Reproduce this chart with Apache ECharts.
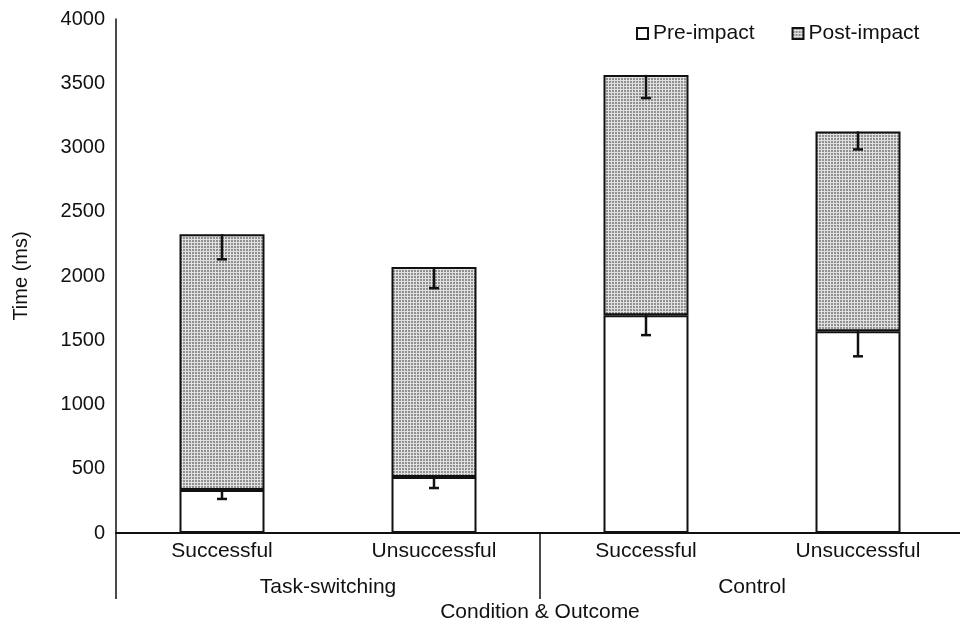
<!DOCTYPE html>
<html>
<head>
<meta charset="utf-8">
<script src="https://cdn.jsdelivr.net/npm/echarts@6/dist/echarts.min.js"></script>
<style>
  html, body { margin: 0; padding: 0; background: #fff; }
  #chart { width: 960px; height: 626px; }
</style>
</head>
<body>
<div id="chart"></div>
<script>
// data
var outcomes = ['Successful', 'Unsuccessful', 'Successful', 'Unsuccessful'];
var conditions = ['Task-switching', 'Control'];
var preImpact = [335, 435, 1695, 1570];
var postImpact = [1990, 1635, 1870, 1555];
var preErr = [70, 85, 155, 195];
var postErr = [195, 165, 180, 140];
var yTicks = [0, 500, 1000, 1500, 2000, 2500, 3000, 3500, 4000];

var font = '"Liberation Sans", Arial, Helvetica, sans-serif';
var ink = '#111';

// dotted fill for the post-impact part
function makeDots() {
    var c = document.createElement('canvas');
    c.width = 3;
    c.height = 3;
    var ctx = c.getContext('2d');
    ctx.fillStyle = '#e0e0e0';
    ctx.fillRect(0, 0, 3, 3);
    ctx.fillStyle = '#909090';
    ctx.fillRect(0, 0, 2, 2);
    return c;
}
var dots = { image: makeDots(), repeat: 'repeat' };

var myCharts = echarts.init(document.getElementById('chart'));

// error bars drawn downward only, with a small cap at the bottom
function errorBars(tops, errs) {
    return tops.map(function (t, i) { return [i, t, t - errs[i]]; });
}
function renderErr(params, api) {
    var hi = api.coord([api.value(0), api.value(1)]);
    var lo = api.coord([api.value(0), api.value(2)]);
    var style = { stroke: ink, lineWidth: 2.5 };
    return {
        type: 'group',
        children: [
            { type: 'line', shape: { x1: hi[0], y1: hi[1], x2: lo[0], y2: lo[1] }, style: style },
            { type: 'line', shape: { x1: lo[0] - 5, y1: lo[1], x2: lo[0] + 5, y2: lo[1] }, style: style }
        ]
    };
}
var totals = preImpact.map(function (v, i) { return v + postImpact[i]; });

var option = {
    animation: false,
    textStyle: { fontFamily: font, color: ink },
    legend: {
        data: ['Pre-impact', 'Post-impact'],
        left: 631,
        top: 18,
        itemWidth: 11,
        itemHeight: 11,
        itemGap: 37,
        icon: 'rect',
        textStyle: { fontSize: 21, color: ink, fontFamily: font }
    },
    grid: {
        left: 116,
        top: 19,
        width: 848,
        bottom: 93,
        outerBoundsMode: 'none'
    },
    xAxis: [
        {
            type: 'category',
            data: outcomes,
            name: 'Condition & Outcome',
            nameLocation: 'middle',
            nameGap: 69,
            nameTextStyle: { fontSize: 21, color: ink, fontFamily: font },
            axisLine: { onZero: false, lineStyle: { color: ink, width: 2 } },
            axisTick: { show: false },
            axisLabel: { fontSize: 21, color: ink, margin: 8, fontFamily: font }
        },
        {
            type: 'category',
            data: conditions,
            position: 'bottom',
            axisLine: { show: false, onZero: false },
            axisTick: { show: true, length: 66, lineStyle: { color: ink, width: 1.5 } },
            axisLabel: { fontSize: 21, color: ink, margin: 44, fontFamily: font },
            splitLine: { show: false }
        }
    ],
    yAxis: {
        type: 'value',
        min: yTicks[0],
        max: yTicks[yTicks.length - 1],
        interval: 500,
        name: 'Time (ms)',
        nameLocation: 'middle',
        nameGap: 85,
        nameTextStyle: { fontSize: 20, color: ink, fontFamily: font },
        axisLine: { show: true, lineStyle: { color: ink, width: 1.5 } },
        axisTick: { show: false },
        splitLine: { show: false },
        axisLabel: {
            fontSize: 20, color: ink, margin: 11, fontFamily: font,
            formatter: function (v) { return String(v); }
        }
    },
    series: [
        {
            name: 'Pre-impact',
            type: 'bar',
            stack: 'time',
            barWidth: 85,
            data: preImpact,
            itemStyle: { color: '#fff', borderColor: ink, borderWidth: 2 }
        },
        {
            name: 'Post-impact',
            type: 'bar',
            stack: 'time',
            barWidth: 85,
            data: postImpact,
            itemStyle: { color: dots, borderColor: ink, borderWidth: 2 }
        },
        {
            name: 'preErr',
            type: 'custom',
            renderItem: renderErr,
            data: errorBars(preImpact, preErr),
            z: 5
        },
        {
            name: 'postErr',
            type: 'custom',
            renderItem: renderErr,
            data: errorBars(totals, postErr),
            z: 5
        }
    ]
};

myCharts.setOption(option);

window.addEventListener('resize', function () {
    myCharts.resize();
});
</script>
</body>
</html>
